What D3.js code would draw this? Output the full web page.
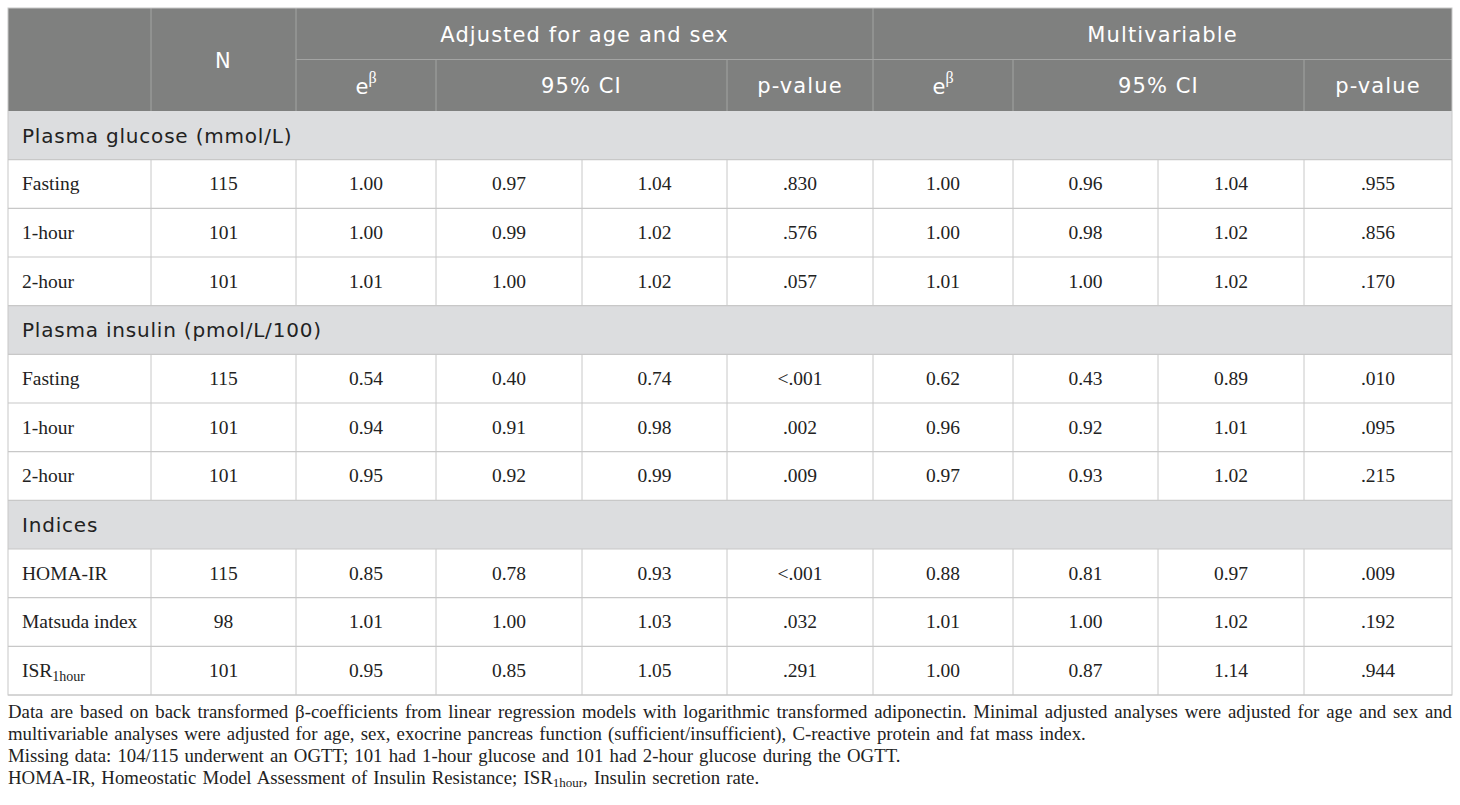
<!DOCTYPE html>
<html>
<head>
<meta charset="utf-8">
<script src="https://cdn.jsdelivr.net/npm/d3@7"></script>
<style>
  body { margin: 0; background: #fff; }
</style>
</head>
<body>
<div id="table"></div>
<script>
// Table content
var groups = ["Plasma glucose (mmol/L)", "Plasma insulin (pmol/L/100)", "Indices"];
var rowLabels = ["Fasting", "1-hour", "2-hour", "Fasting", "1-hour", "2-hour", "HOMA-IR", "Matsuda index", "ISR"];
var nValues = ["115", "101", "101", "115", "101", "101", "115", "98", "101"];
var ageSexEb = ["1.00", "1.00", "1.01", "0.54", "0.94", "0.95", "0.85", "1.01", "0.95"];
var ageSexLow = ["0.97", "0.99", "1.00", "0.40", "0.91", "0.92", "0.78", "1.00", "0.85"];
var ageSexHigh = ["1.04", "1.02", "1.02", "0.74", "0.98", "0.99", "0.93", "1.03", "1.05"];
var ageSexP = [".830", ".576", ".057", "<.001", ".002", ".009", "<.001", ".032", ".291"];
var multiEb = ["1.00", "1.00", "1.01", "0.62", "0.96", "0.97", "0.88", "1.01", "1.00"];
var multiLow = ["0.96", "0.98", "1.00", "0.43", "0.92", "0.93", "0.81", "1.00", "0.87"];
var multiHigh = ["1.04", "1.02", "1.02", "0.89", "1.01", "1.02", "0.97", "1.02", "1.14"];
var multiP = [".955", ".856", ".170", ".010", ".095", ".215", ".009", ".192", ".944"];

var footnotes = [
  "Data are based on back transformed \u03b2-coefficients from linear regression models with logarithmic transformed adiponectin. Minimal adjusted analyses were adjusted for age and sex and",
  "multivariable analyses were adjusted for age, sex, exocrine pancreas function (sufficient/insufficient), C-reactive protein and fat mass index.",
  "Missing data: 104/115 underwent an OGTT; 101 had 1-hour glucose and 101 had 2-hour glucose during the OGTT.",
  "HOMA-IR, Homeostatic Model Assessment of Insulin Resistance; ISR|1hour|, Insulin secretion rate."
];

// Layout
var W = 1460, H = 805;
var tLeft = 8, tRight = 1452, tTop = 8, headBottom = 111, bodyBottom = 695;
var colEdges = [8, 151, 296, 436, 582, 727, 873, 1013, 1158, 1304, 1452];
var sans = "'DejaVu Sans', 'Open Sans', sans-serif";
var serif = "'Liberation Serif', 'DejaVu Serif', serif";

var svg = d3.select("#table").append("svg")
  .attr("width", W)
  .attr("height", H);

// Column scale: index -> left edge
var xCol = d3.scaleOrdinal().domain(d3.range(colEdges.length)).range(colEdges);
function colMid(a, b) { return (xCol(a) + xCol(b)) / 2; }

// Header rows
var yHead = d3.scaleBand().domain([0, 1]).range([tTop, headBottom]);

// Body rows: groups interleaved with their data rows
var bodyRows = [];
groups.forEach(function (g, gi) {
  bodyRows.push({ type: "group", label: g });
  for (var k = 0; k < 3; k++) {
    var i = gi * 3 + k;
    bodyRows.push({
      type: "data",
      label: rowLabels[i],
      values: [nValues[i], ageSexEb[i], ageSexLow[i], ageSexHigh[i], ageSexP[i],
               multiEb[i], multiLow[i], multiHigh[i], multiP[i]]
    });
  }
});
var yBody = d3.scaleBand().domain(d3.range(bodyRows.length)).range([headBottom, bodyBottom]);

// Header background
svg.append("rect")
  .attr("x", tLeft).attr("y", tTop)
  .attr("width", tRight - tLeft).attr("height", headBottom - tTop)
  .attr("fill", "#7f807f");

var headLine = "#a3a4a3";
// header vertical lines
[1, 2, 6].forEach(function (c) {
  svg.append("line").attr("x1", xCol(c)).attr("x2", xCol(c))
    .attr("y1", tTop).attr("y2", headBottom)
    .attr("stroke", headLine).attr("stroke-width", 1);
});
[3, 5, 7, 9].forEach(function (c) {
  svg.append("line").attr("x1", xCol(c)).attr("x2", xCol(c))
    .attr("y1", yHead(1)).attr("y2", headBottom)
    .attr("stroke", headLine).attr("stroke-width", 1);
});
svg.append("line").attr("x1", xCol(2)).attr("x2", tRight)
  .attr("y1", yHead(1)).attr("y2", yHead(1))
  .attr("stroke", headLine).attr("stroke-width", 1);

function headText(x, y, txt) {
  return svg.append("text")
    .attr("x", x).attr("y", y + 8)
    .attr("text-anchor", "middle")
    .attr("fill", "#ffffff")
    .style("font-family", sans)
    .style("font-size", "21px")
    .style("letter-spacing", "1.1px")
    .text(txt);
}
var hb = yHead.bandwidth();
headText(colMid(1, 2), (tTop + headBottom) / 2, "N");
headText(colMid(2, 6), yHead(0) + hb / 2, "Adjusted for age and sex");
headText(colMid(6, 10), yHead(0) + hb / 2, "Multivariable");

// e with superscript beta
function ebText(x, y) {
  var t = svg.append("text")
    .attr("x", x).attr("y", y + 9)
    .attr("text-anchor", "middle")
    .attr("fill", "#ffffff")
    .style("font-family", sans)
    .style("font-size", "21px");
  t.append("tspan").text("e");
  t.append("tspan").attr("dy", -11).style("font-size", "16px")
    .style("font-family", serif).text("\u03b2");
}
var r2 = yHead(1) + hb / 2;
ebText(colMid(2, 3), r2);
headText(colMid(3, 5), r2, "95% CI");
headText(colMid(5, 6), r2, "p-value");
ebText(colMid(6, 7), r2);
headText(colMid(7, 9), r2, "95% CI");
headText(colMid(9, 10), r2, "p-value");

// Body
var bh = yBody.bandwidth();
var gridColor = "#c8c8c8";
var rows = svg.selectAll(".row").data(bodyRows).enter().append("g")
  .attr("class", "row")
  .attr("transform", function (d, i) { return "translate(0," + yBody(i) + ")"; });

rows.filter(function (d) { return d.type === "group"; })
  .append("rect")
  .attr("x", tLeft).attr("y", 0)
  .attr("width", tRight - tLeft).attr("height", bh)
  .attr("fill", "#dcdddf");

rows.filter(function (d) { return d.type === "group"; })
  .append("text")
  .attr("x", 22).attr("y", bh / 2 + 7.5)
  .attr("fill", "#222")
  .style("font-family", sans)
  .style("font-size", "20px")
  .style("letter-spacing", "0.8px")
  .text(function (d) { return d.label; });

var dataRows = rows.filter(function (d) { return d.type === "data"; });

dataRows.each(function (d) {
  var g = d3.select(this);
  for (var c = 1; c < colEdges.length - 1; c++) {
    g.append("line").attr("x1", xCol(c)).attr("x2", xCol(c))
      .attr("y1", 0).attr("y2", bh)
      .attr("stroke", gridColor).attr("stroke-width", 1);
  }
  var lab = g.append("text")
    .attr("x", 22).attr("y", bh / 2 + 6.5)
    .attr("fill", "#222")
    .style("font-family", serif)
    .style("font-size", "19.5px");
  lab.append("tspan").text(d.label);
  if (d.label === "ISR") {
    lab.append("tspan").attr("dy", 4).style("font-size", "14px").text("1hour");
  }
  d.values.forEach(function (v, vi) {
    g.append("text")
      .attr("x", colMid(vi + 1, vi + 2))
      .attr("y", bh / 2 + 6.5)
      .attr("text-anchor", "middle")
      .attr("fill", "#222")
      .style("font-family", serif)
      .style("font-size", "19.5px")
      .text(v);
  });
});

// horizontal grid lines in body
d3.range(1, bodyRows.length + 1).forEach(function (i) {
  var y = i < bodyRows.length ? yBody(i) : bodyBottom;
  svg.append("line").attr("x1", tLeft).attr("x2", tRight)
    .attr("y1", y).attr("y2", y)
    .attr("stroke", gridColor).attr("stroke-width", 1.2);
});

// outer border
svg.append("rect")
  .attr("x", tLeft).attr("y", tTop)
  .attr("width", tRight - tLeft).attr("height", bodyBottom - tTop)
  .attr("fill", "none")
  .attr("stroke", "#c8c8c8").attr("stroke-width", 1);

// Footnotes
var fnTop = 718, fnStep = 22;
footnotes.forEach(function (line, i) {
  var t = svg.append("text")
    .attr("x", tLeft).attr("y", fnTop + i * fnStep)
    .attr("fill", "#222")
    .style("font-family", serif)
    .style("font-size", "18.8px")
    .style("word-spacing", "1.5px");
  var parts = line.split("|");
  parts.forEach(function (p, pi) {
    if (pi % 2 === 1) {
      t.append("tspan").attr("dy", 3).style("font-size", "13px").text(p);
    } else {
      t.append("tspan").attr("dy", pi > 0 ? -3 : 0).text(p);
    }
  });
  if (i === 0) {
    // justify the first line across the table width
    t.style("word-spacing", "0px");
    var w = t.node().getComputedTextLength();
    var spaces = line.split(" ").length - 1;
    var ws = (tRight - tLeft - w) / spaces;
    if (ws < 0) {
      t.attr("textLength", tRight - tLeft).attr("lengthAdjust", "spacingAndGlyphs");
    } else {
      t.style("word-spacing", ws + "px");
    }
  }
});
</script>
</body>
</html>
